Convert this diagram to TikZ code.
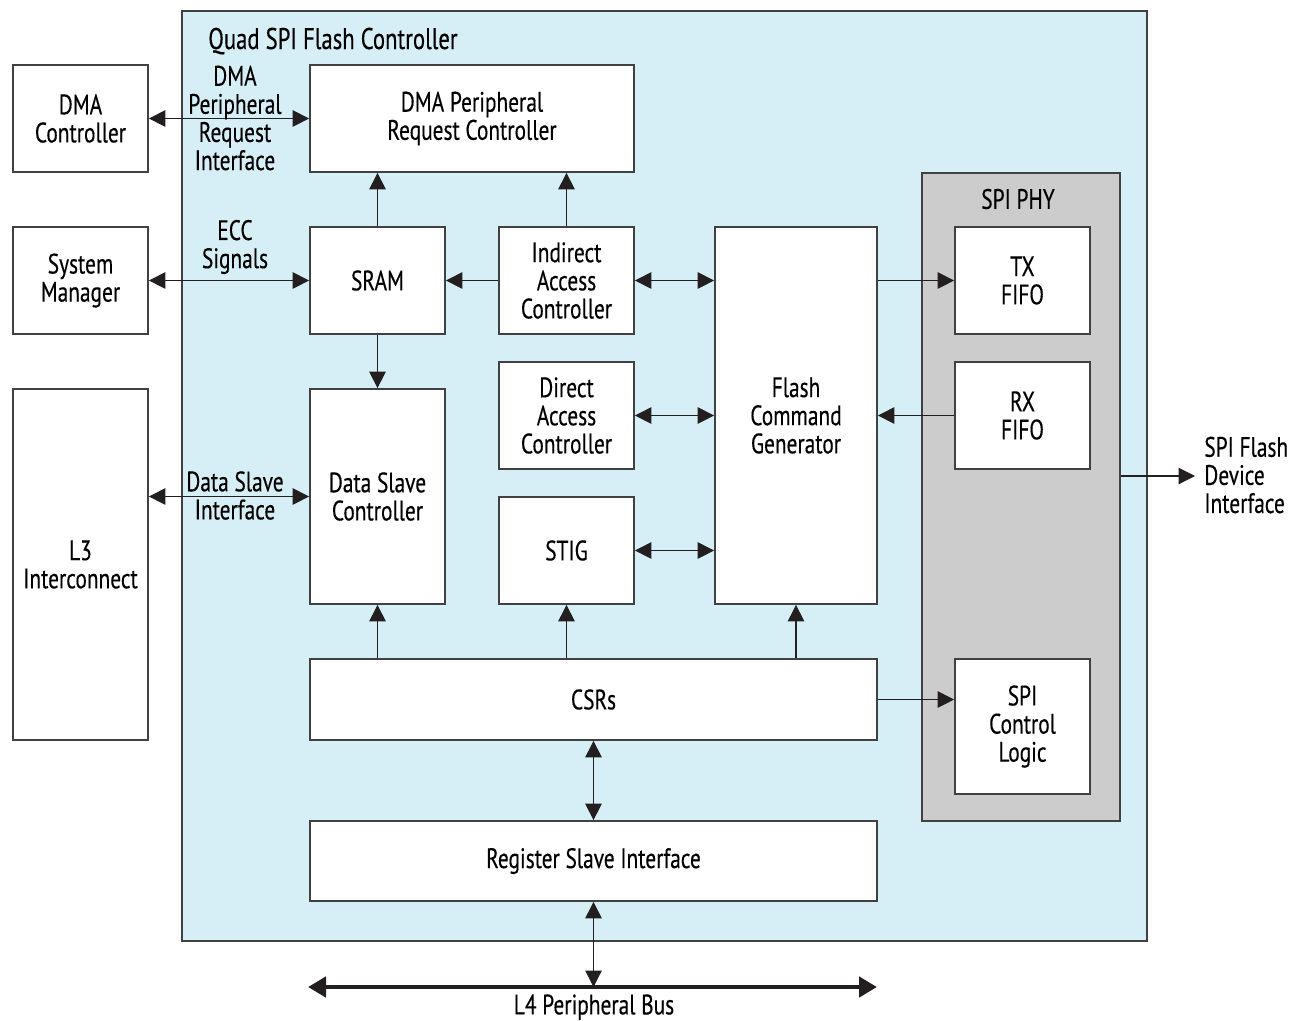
\documentclass[tikz,border=0pt]{standalone}
\usepackage{fontspec}
\setmainfont{PT Sans}[FakeStretch=0.76, FakeBold=0.3]
\usetikzlibrary{arrows.meta}
\definecolor{qspiblue}{HTML}{D6EEF5}
\definecolor{phygray}{HTML}{CCCCCC}
\definecolor{boxline}{HTML}{414042}
\definecolor{arrline}{HTML}{231F20}

\begin{document}
\begin{tikzpicture}[font=\fontsize{16}{16}\selectfont,
    blk/.style={draw=boxline, line width=1pt, fill=white, minimum width=2.7cm, minimum height=2.14cm, align=center, inner sep=0pt},
    lbl/.style={align=center, inner sep=0pt},
    con/.style={draw=arrline, line width=0.6pt},
    tip/.style={-{Triangle[length=0.33cm,width=0.33cm]}},
    tips/.style={{Triangle[length=0.33cm,width=0.33cm]}-{Triangle[length=0.33cm,width=0.33cm]}},
    bus/.style={draw=arrline, line width=2.8pt, {Triangle[length=0.36cm,width=0.4cm]}-{Triangle[length=0.36cm,width=0.4cm]}}]
        \useasboundingbox (0,0) rectangle (25.96,-20.4);
        \node[blk, fill=qspiblue, minimum width=19.3cm, minimum height=18.6cm] (qspi) at (13.29,-9.52) {};
        \node[lbl, anchor=base west, font=\fontsize{17}{17}\selectfont] (title) at (4.16,-0.98) {Quad SPI Flash Controller};
        \node[blk] (dmac) at (1.61,-2.37) {DMA\\Controller};
        \node[blk] (sysm) at (1.61,-5.61) {System\\Manager};
        \node[blk, minimum height=7.02cm] (l3) at (1.61,-11.29) {L3\\Interconnect};
        \node[blk, minimum width=6.48cm] (dmaprc) at (9.44,-2.37) {DMA Peripheral\\Request Controller};
        \node[blk] (sram) at (7.55,-5.61) {SRAM};
        \node[blk] (iac) at (11.33,-5.61) {Indirect\\Access\\Controller};
        \node[blk] (dac) at (11.33,-8.31) {Direct\\Access\\Controller};
        \node[blk] (stig) at (11.33,-11.01) {STIG};
        \node[blk, minimum height=4.3cm] (dsc) at (7.55,-9.93) {Data Slave\\Controller};
        \node[blk, minimum width=3.24cm, minimum height=7.54cm] (fcg) at (15.92,-8.31) {Flash\\Command\\Generator};
        \node[blk, minimum width=11.34cm, minimum height=1.62cm] (csr) at (11.87,-13.99) {CSRs};
        \node[blk, minimum width=11.34cm, minimum height=1.6cm] (rsi) at (11.87,-17.22) {Register Slave Interface};
        \node[blk, fill=phygray, minimum width=3.96cm, minimum height=12.96cm] (phy) at (20.42,-9.94) {};
        \node[lbl] (phylbl) at (20.36,-3.98) {SPI PHY};
        \node[blk] (txf) at (20.45,-5.61) {TX\\FIFO};
        \node[blk] (rxf) at (20.45,-8.31) {RX\\FIFO};
        \node[blk, minimum height=2.7cm] (scl) at (20.45,-14.53) {SPI\\Control\\Logic};
        \coordinate (busl) at (6.16,-19.74);
        \coordinate (busr) at (17.54,-19.74);
        \coordinate (flash) at (23.9,-9.52);
        \draw[con, tips] (dmac) -- (dmaprc);
        \draw[con, tips] (sysm) -- (sram);
        \draw[con, tips] (l3.east |- dsc.west) -- (dsc.west);
        \draw[con, tip] (sram) -- (dmaprc.south -| sram);
        \draw[con, tip] (iac.north) -- (iac.north |- dmaprc.south);
        \draw[con, tip] (iac) -- (sram);
        \draw[con, tips] (iac.east) -- (iac.east -| fcg.west);
        \draw[con, tips] (dac.east) -- (dac.east -| fcg.west);
        \draw[con, tips] (stig.east) -- (stig.east -| fcg.west);
        \draw[con, tip] (sram) -- (dsc);
        \draw[con, tip] (csr.north -| dsc) -- (dsc.south);
        \draw[con, tip] (csr.north -| stig) -- (stig.south);
        \draw[con, tip] (csr.north -| fcg) -- (fcg.south);
        \draw[con, tip] (csr.east) -- (csr.east -| scl.west);
        \draw[con, tips] (csr) -- (rsi);
        \draw[con, tip] (txf.west -| fcg.east) -- (txf.west);
        \draw[con, tip] (rxf.west) -- (rxf.west -| fcg.east);
        \draw[con, tips] (rsi.south) -- (rsi.south |- busl);
        \draw[bus] (busl) -- (busr);
        \draw[con, tip] (phy.east |- flash) -- (flash);
        \node[lbl] (dmaif) at (4.7,-2.36) {DMA\\Peripheral\\Request\\Interface};
        \node[lbl] (ecc) at (4.7,-4.94) {ECC\\Signals};
        \node[lbl] (dsif) at (4.7,-9.91) {Data Slave\\Interface};
        \node[lbl, anchor=north] (l4) at (11.88,-19.88) {L4 Peripheral Bus};
        \node[lbl, anchor=west, align=left] (flashif) at (24.08,-9.5) {SPI Flash\\Device\\Interface};
     \end{tikzpicture}
\end{document}
